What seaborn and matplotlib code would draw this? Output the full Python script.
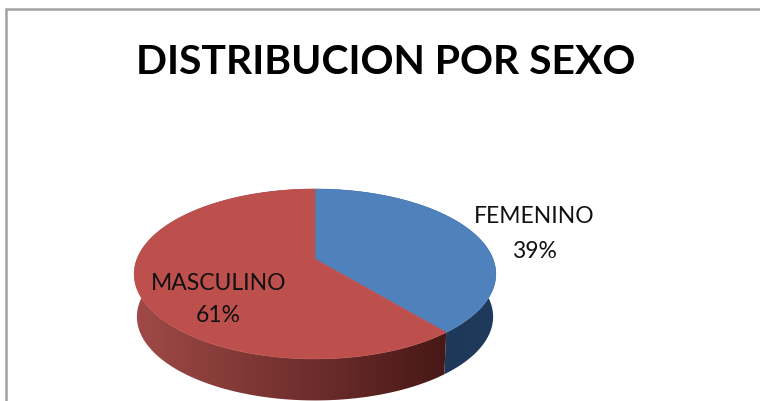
import numpy as np
import matplotlib
matplotlib.use("Agg")
import matplotlib.pyplot as plt
from matplotlib.patches import Polygon
from matplotlib.colors import LinearSegmentedColormap
import seaborn as sns

categories = ["FEMENINO", "MASCULINO"]
shares = [39, 61]
top_colors = ["#4f81bd", "#bd504d"]
side_shades = [("#1c3350", "#1f3a5c"), ("#a04a47", "#471817")]
title = "DISTRIBUCION POR SEXO"

sns.set_theme(style="white")
plt.rcParams["font.family"] = ["Lato", "DejaVu Sans"]

W, H = 760, 402
fig = plt.figure(figsize=(W / 100, H / 100), dpi=100)
ax = fig.add_axes([0, 0, 1, 1])
ax.set_xlim(0, W)
ax.set_ylim(H, 0)
ax.axis("off")

CX, AY, K, P, S = 315.0, 260.0, 0.176, 178.0, 82.35
DROP, SHRINK = 43.0, 0.985


def project(theta, scale=1.0, drop=0.0):
    u, v = np.sin(theta), np.cos(theta)
    d = 1 + K * v
    return CX + scale * P * u / d, AY + drop - scale * S * v / d


edges = 2 * np.pi * np.cumsum([0] + shares) / sum(shares)
arcs = [np.linspace(a, b, 300) for a, b in zip(edges[:-1], edges[1:])]

# side walls (drawn first, gradient clipped to wall shape)
for arc, (c0, c1) in zip(arcs, side_shades):
    tx, ty = project(arc)
    bx, by = project(arc, SHRINK, DROP)
    wall = Polygon(np.column_stack([np.r_[tx, bx[::-1]], np.r_[ty, by[::-1]]]),
                   closed=True, fc="none", ec="none", transform=ax.transData)
    ax.add_patch(wall)
    cmap = LinearSegmentedColormap.from_list("s", [c0, c1])
    im = ax.imshow(np.linspace(0, 1, 256)[None, :], cmap=cmap, aspect="auto",
                   extent=[min(tx.min(), bx.min()), max(tx.max(), bx.max()), H + 60, 150],
                   zorder=1)
    im.set_clip_path(wall)
ax.set_xlim(0, W)
ax.set_ylim(H, 0)

# top face
for arc, col in zip(arcs, top_colors):
    tx, ty = project(arc)
    pts = np.column_stack([np.r_[CX, tx], np.r_[AY, ty]])
    ax.add_patch(Polygon(pts, closed=True, fc=col, ec=col, lw=0.4, zorder=2))

# frame
ax.plot([5.5, 5.5, W], [H, 9.5, 9.5], color="#a3a3a3", lw=1.8, zorder=3,
        solid_joinstyle="miter")

ax.text(386, 62, title, ha="center", va="center", fontsize=29.4, fontweight="bold",
        color="black", zorder=4)
label_pos = [(534, 217, 251), (218.5, 284, 316)]
for name, val, (x, y1, y2) in zip(categories, shares, label_pos):
    ax.text(x, y1, name, ha="center", va="center", fontsize=16.5, color="#111111", zorder=4)
    ax.text(x, y2, f"{val}%", ha="center", va="center", fontsize=16.5, color="#111111", zorder=4)

fig.savefig("out.png", dpi=100)
